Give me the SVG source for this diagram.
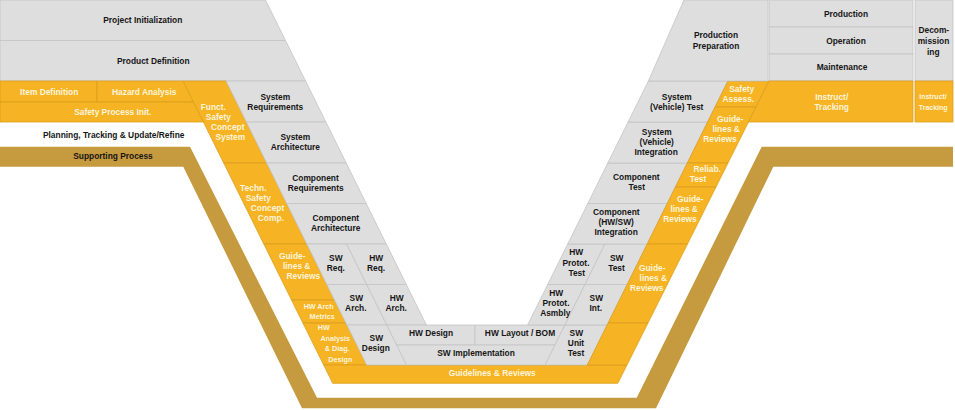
<svg xmlns="http://www.w3.org/2000/svg" width="955" height="410" viewBox="0 0 955 410">
<style>
.g{fill:#dedede;stroke:#c4c4c4;stroke-width:0.8}
.o{fill:#f6b323;stroke:#dca020;stroke-width:0.8}
.b{fill:#c69a3e}
text{font-family:"Liberation Sans",Arial,sans-serif;font-weight:bold;font-size:8.4px;text-anchor:middle}
.d{fill:#161616}
.w{fill:#fff5dd}
.sm{font-size:7.2px}
.xs{font-size:7px}
</style>
<rect width="955" height="410" fill="#ffffff"/>

<g id="supporting-process">
<polygon class="b" points="0,146.7 190,146.7 317,397.7 636.7,397.7 761.7,146.7 953,146.7 953,166.7 773.3,166.7 656,408.3 302,408.3 183.3,166.7 0,166.7"/>
<text class="d" x="113" y="158.5">Supporting Process</text>
</g>

<g id="planning">
<text class="d" x="113.7" y="137.7">Planning, Tracking &amp; Update/Refine</text>
</g>

<g id="project-initialization">
<polygon class="g" points="0,0 265.5,0 285.5,40.5 0,40.5"/>
<text class="d" x="142.8" y="23.3">Project Initialization</text>
</g>
<g id="product-definition">
<polygon class="g" points="0,40.5 285.5,40.5 305.6,81 0,81"/>
<text class="d" x="153.3" y="63.7">Product Definition</text>
</g>

<g id="item-definition">
<polygon class="o" points="0,81 97,81 97,102 0,102"/>
<text class="w" x="49.2" y="95">Item Definition</text>
</g>
<g id="hazard-analysis">
<polygon class="o" points="97,81 183.1,81 193.5,102 97,102"/>
<text class="w" x="144.2" y="95">Hazard Analysis</text>
</g>
<g id="safety-process-init">
<polygon class="o" points="0,102 193.5,102 203.4,122 0,122"/>
<text class="w" x="112.8" y="115">Safety Process Init.</text>
</g>

<g id="funct-safety-concept">
<polygon class="o" points="183.1,81 226.1,81 266.7,163 223.7,163"/>
<text class="w"><tspan x="213.3" y="110.3">Funct.</tspan><tspan x="218.3" y="120.3">Safety</tspan><tspan x="227.7" y="130.3">Concept</tspan><tspan x="230.3" y="140.3">System</tspan></text>
</g>
<g id="techn-safety-concept">
<polygon class="o" points="223.7,163 266.7,163 306.8,244 263.8,244"/>
<text class="w"><tspan x="253.3" y="190.7">Techn.</tspan><tspan x="258.3" y="200.7">Safety</tspan><tspan x="267.5" y="210.7">Concept</tspan><tspan x="270.8" y="221.3">Comp.</tspan></text>
</g>
<g id="guidelines-left">
<polygon class="o" points="263.8,244 306.8,244 334.5,300 291.5,300"/>
<text class="w"><tspan x="292.2" y="259">Guide-</tspan><tspan x="296.7" y="269">lines &amp;</tspan><tspan x="303.3" y="279">Reviews</tspan></text>
</g>
<g id="hw-arch-metrics">
<polygon class="o" points="291.5,300 334.5,300 345.9,323 302.9,323"/>
<text class="w sm"><tspan x="318.7" y="308.6">HW Arch</tspan><tspan x="322.2" y="318.6">Metrics</tspan></text>
</g>
<g id="hw-analysis">
<polygon class="o" points="302.9,323 345.9,323 366.7,365 323.7,365"/>
<text class="w sm"><tspan x="323.7" y="330.3">HW</tspan><tspan x="335.2" y="341.3">Analysis</tspan><tspan x="337.2" y="351.3">&amp; Diag.</tspan><tspan x="340.3" y="361.6">Design</tspan></text>
</g>
<g id="guidelines-bottom">
<polygon class="o" points="323.7,365 627,365 617.8,383.3 332.7,383.3"/>
<text class="w" x="492.2" y="376.3">Guidelines &amp; Reviews</text>
</g>

<g id="system-requirements">
<polygon class="g" points="226.1,81 305.6,81 325.9,122 246.4,122"/>
<text class="d"><tspan x="275.3" y="100.3">System</tspan><tspan x="275.3" y="110.3">Requirements</tspan></text>
</g>
<g id="system-architecture">
<polygon class="g" points="246.4,122 325.9,122 346.2,163 266.7,163"/>
<text class="d"><tspan x="295.3" y="140.3">System</tspan><tspan x="295.3" y="150.3">Architecture</tspan></text>
</g>
<g id="component-requirements">
<polygon class="g" points="266.7,163 346.2,163 366.2,203.5 286.7,203.5"/>
<text class="d"><tspan x="315.5" y="180.7">Component</tspan><tspan x="315.7" y="190.7">Requirements</tspan></text>
</g>
<g id="component-architecture">
<polygon class="g" points="286.7,203.5 366.2,203.5 386.3,244 306.8,244"/>
<text class="d"><tspan x="335.8" y="221.3">Component</tspan><tspan x="335.7" y="231.3">Architecture</tspan></text>
</g>
<g id="sw-req">
<polygon class="g" points="306.8,244 346.7,244 366.7,284.5 326.8,284.5"/>
<text class="d"><tspan x="335.8" y="260.7">SW</tspan><tspan x="335.8" y="270.7">Req.</tspan></text>
</g>
<g id="hw-req">
<polygon class="g" points="346.7,244 386.3,244 406.3,284.5 366.7,284.5"/>
<text class="d"><tspan x="376.2" y="260.7">HW</tspan><tspan x="376" y="270.7">Req.</tspan></text>
</g>
<g id="sw-arch">
<polygon class="g" points="326.8,284.5 366.7,284.5 386.8,325 346.9,325"/>
<text class="d"><tspan x="356.3" y="300.7">SW</tspan><tspan x="355.8" y="310.7">Arch.</tspan></text>
</g>
<g id="hw-arch">
<polygon class="g" points="366.7,284.5 406.3,284.5 426.4,325 386.8,325"/>
<text class="d"><tspan x="396.7" y="300.7">HW</tspan><tspan x="396.2" y="310.7">Arch.</tspan></text>
</g>
<g id="sw-design">
<polygon class="g" points="346.9,325 386.8,325 406.6,365 366.7,365"/>
<text class="d"><tspan x="376.3" y="340.7">SW</tspan><tspan x="375.8" y="351.3">Design</tspan></text>
</g>
<g id="hw-design">
<polygon class="g" points="386.8,325 475,325 475,345 396.7,345"/>
<text class="d" x="431" y="336.3">HW Design</text>
</g>
<g id="hw-layout-bom">
<polygon class="g" points="475,325 564.9,325 555,345 475,345"/>
<text class="d" x="520" y="336.3">HW Layout / BOM</text>
</g>
<g id="sw-implementation">
<polygon class="g" points="396.7,345 555,345 545.1,365 406.6,365"/>
<text class="d" x="476" y="356.3">SW Implementation</text>
</g>
<g id="sw-unit-test">
<polygon class="g" points="564.9,325 607.1,325 587.3,365 545.1,365"/>
<text class="d"><tspan x="576.3" y="336.3">SW</tspan><tspan x="576" y="346.3">Unit</tspan><tspan x="576" y="356.3">Test</tspan></text>
</g>

<g id="hw-protot-asmbly">
<polygon class="g" points="547.7,284.5 585,284.5 564.9,325 527.6,325"/>
<text class="d"><tspan x="556.3" y="295.7">HW</tspan><tspan x="556" y="306.3">Protot.</tspan><tspan x="555.3" y="316.3">Asmbly</tspan></text>
</g>
<g id="sw-int">
<polygon class="g" points="585,284.5 627.2,284.5 607.1,325 564.9,325"/>
<text class="d"><tspan x="596.3" y="300.7">SW</tspan><tspan x="595.8" y="310.7">Int.</tspan></text>
</g>
<g id="hw-protot-test">
<polygon class="g" points="567.7,244 605,244 585,284.5 547.7,284.5"/>
<text class="d"><tspan x="576.3" y="255.3">HW</tspan><tspan x="576" y="265.7">Protot.</tspan><tspan x="576.7" y="275.7">Test</tspan></text>
</g>
<g id="sw-test">
<polygon class="g" points="605,244 647.2,244 627.2,284.5 585,284.5"/>
<text class="d"><tspan x="616.7" y="260.7">SW</tspan><tspan x="616.5" y="270.7">Test</tspan></text>
</g>
<g id="component-integration">
<polygon class="g" points="587.8,203.5 667.3,203.5 647.2,244 567.7,244"/>
<text class="d"><tspan x="616.3" y="215.3">Component</tspan><tspan x="616.2" y="225.3">(HW/SW)</tspan><tspan x="616.2" y="235.3">Integration</tspan></text>
</g>
<g id="component-test">
<polygon class="g" points="607.8,163 687.3,163 667.3,203.5 587.8,203.5"/>
<text class="d"><tspan x="636.3" y="180.3">Component</tspan><tspan x="636.7" y="190.3">Test</tspan></text>
</g>
<g id="system-integration">
<polygon class="g" points="628.1,122 707.6,122 687.3,163 607.8,163"/>
<text class="d"><tspan x="656.7" y="135.3">System</tspan><tspan x="656.7" y="145.3">(Vehicle)</tspan><tspan x="656.2" y="155.3">Integration</tspan></text>
</g>
<g id="system-test">
<polygon class="g" points="648.4,81 727.9,81 707.6,122 628.1,122"/>
<text class="d"><tspan x="676.7" y="100.3">System</tspan><tspan x="676.7" y="110.3">(Vehicle) Test</tspan></text>
</g>

<g id="safety-assess">
<polygon class="o" points="727.9,81 769,81 756,107 715,107"/>
<text class="w"><tspan x="741.7" y="92">Safety</tspan><tspan x="738.3" y="102">Assess.</tspan></text>
</g>
<g id="guidelines-right-1">
<polygon class="o" points="715,107 756,107 728,163 687.3,163"/>
<text class="w"><tspan x="730.3" y="122.3">Guide-</tspan><tspan x="726.2" y="132.3">lines &amp;</tspan><tspan x="720" y="142.3">Reviews</tspan></text>
</g>
<g id="reliab-test">
<polygon class="o" points="687.3,163 728,163 716,187 675.4,187"/>
<text class="w"><tspan x="707.2" y="172.3">Reliab.</tspan><tspan x="698" y="182.3">Test</tspan></text>
</g>
<g id="guidelines-right-2">
<polygon class="o" points="675.4,187 716,187 687.5,244 647.2,244"/>
<text class="w"><tspan x="690.3" y="202.3">Guide-</tspan><tspan x="684.2" y="212.3">lines &amp;</tspan><tspan x="680" y="222.3">Reviews</tspan></text>
</g>
<g id="guidelines-right-3">
<polygon class="o" points="647.2,244 687.5,244 648,323 608.1,323"/>
<text class="w"><tspan x="652.2" y="270.7">Guide-</tspan><tspan x="653.3" y="280.7">lines &amp;</tspan><tspan x="646.7" y="290.7">Reviews</tspan></text>
</g>
<g id="orange-right-bottom">
<polygon class="o" points="608.1,323 648,323 627,365 587.3,365"/>
</g>

<g id="production-preparation">
<polygon class="g" points="684,0 768,0 768,81 648.4,81"/>
<text class="d"><tspan x="716" y="38">Production</tspan><tspan x="716" y="48.7">Preparation</tspan></text>
</g>
<g id="production">
<rect class="g" x="769" y="0" width="144" height="27"/>
<text class="d" x="846" y="17">Production</text>
</g>
<g id="operation">
<rect class="g" x="769" y="27" width="144" height="27"/>
<text class="d" x="846" y="44">Operation</text>
</g>
<g id="maintenance">
<rect class="g" x="769" y="54" width="144" height="27"/>
<text class="d" x="842" y="69.7">Maintenance</text>
</g>
<g id="decommissioning">
<rect class="g" x="915" y="0" width="38" height="81"/>
<text class="d"><tspan x="933.8" y="33">Decom-</tspan><tspan x="933.5" y="44">mission</tspan><tspan x="933.3" y="54.7">ing</tspan></text>
</g>
<g id="instruct-tracking">
<polygon class="o" points="769,81 913,81 913,122 748.5,122"/>
<text class="w"><tspan x="831.7" y="99.7">Instruct/</tspan><tspan x="831.7" y="110.3">Tracking</tspan></text>
</g>
<g id="instruct-tracking-2">
<rect class="o" x="915" y="81" width="38" height="41"/>
<text class="w xs"><tspan x="933" y="99.2">Instruct/</tspan><tspan x="933.2" y="109.8">Tracking</tspan></text>
</g>

<g id="connectors"></g>
</svg>
